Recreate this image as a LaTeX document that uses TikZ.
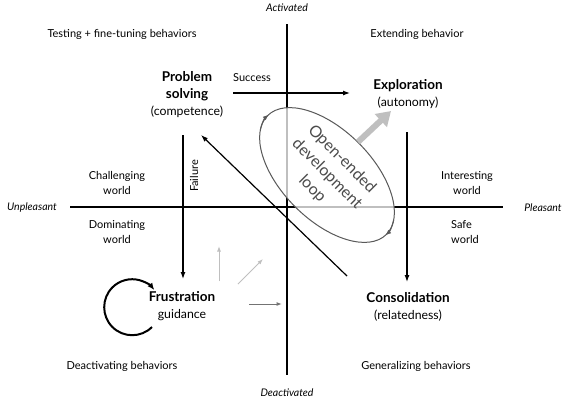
\documentclass[tikz,border=0pt]{standalone}
\usepackage{fontspec}
\setmainfont{Lato}
\usetikzlibrary{arrows.meta}
\newcommand\mybold[1]{{\fontsize{13.5}{17}\bfseries\selectfont #1}}
\begin{document}
\begin{tikzpicture}[x=1pt,y=-1pt,
  lbl/.style={font=\fontsize{11}{15}\selectfont, align=center, inner sep=0pt},
  axlbl/.style={font=\fontsize{10.5}{13}\itshape\selectfont, inner sep=0pt},
  ttl/.style={font=\fontsize{12.3}{17}\selectfont, align=center, inner sep=0pt},
  axisline/.style={line width=1.8pt},
  conn/.style={line width=1.2pt, -{Latex[length=7pt,width=5pt]}},
  grayconn/.style={line width=1pt, -{Latex[length=5.5pt,width=4pt]}},
  looptxt/.style={font=\fontsize{16}{21}\selectfont, align=center, inner sep=0pt, text=black!70},
]
\useasboundingbox (0,0) rectangle (567,400);
\fill[white] (0,0) rectangle (567,400);

% axes
\coordinate (vtop) at (287,24);
\coordinate (vbot) at (287,375);
\coordinate (hleft) at (70,207);
\coordinate (hright) at (503,207);
\draw[axisline] (vtop) -- (vbot);
\draw[axisline] (hleft) -- (hright);

\node[axlbl] (act) at (287,8) {Activated};
\node[axlbl] (deact) at (287,393) {Deactivated};
\node[axlbl] (unpl) at (32,208) {Unpleasant};
\node[axlbl] (pl) at (543,208) {Pleasant};

% corner texts
\node[lbl] (testing) at (122,34) {Testing + fine-tuning behaviors};
\node[lbl] (extending) at (417,34) {Extending behavior};
\node[lbl] (deactiv) at (122,366) {Deactivating behaviors};
\node[lbl] (general) at (416,366) {Generalizing behaviors};

% world labels
\node[lbl] (challenging) at (117,183) {Challenging\\world};
\node[lbl] (dominating) at (117,232) {Dominating\\world};
\node[lbl] (interesting) at (467,183) {Interesting\\world};
\node[lbl, align=left, anchor=west] (safe) at (451,232) {Safe\\world};

% main states
\node[ttl] (problem) at (187,95) {\mybold{Problem}\\\mybold{solving}\\(competence)};
\node[ttl] (exploration) at (408,94.5) {\mybold{Exploration}\\(autonomy)};
\node[ttl] (consolidation) at (408,306.5) {\mybold{Consolidation}\\(relatedness)};
\node[ttl] (frustration) at (182,306) {\mybold{Frustration}\\guidance};

% success arrow
\coordinate (sA) at (233,93);
\coordinate (sB) at (350,93);
\draw[conn] (sA) -- (sB);
\node[lbl] (success) at (252,78) {Success};

% failure arrow
\coordinate (fA) at (183,135);
\coordinate (fB) at (183,279);
\draw[conn] (fA) -- (fB);
\node[lbl, rotate=90] (failure) at (194,176) {Failure};

% consolidation arrow
\coordinate (cA) at (407,132);
\coordinate (cB) at (407,282);
\draw[conn] (cA) -- (cB);

% diagonal arrow back to problem solving
\coordinate (dA) at (347,276);
\coordinate (dB) at (201,135);
\draw[conn] (dA) -- (dB);

% open-ended development loop
\coordinate (lc) at (327,175);
\fill[white, opacity=0.75, rotate around={-45:(lc)}] (lc) ellipse [x radius=84pt, y radius=45pt];
\draw[black!65, line width=1pt, rotate around={-45:(lc)}] (lc) ellipse [x radius=84pt, y radius=45pt];
\begin{scope}[shift={(lc)}, rotate=-45]
  \draw[black!65, line width=1pt, -{Latex[length=6pt,width=4.5pt]}] (200:84pt and 45pt) arc [start angle=200, end angle=178, x radius=84pt, y radius=45pt];
  \draw[black!65, line width=1pt, -{Latex[length=6pt,width=4.5pt]}] (20:84pt and 45pt) arc [start angle=20, end angle=-2, x radius=84pt, y radius=45pt];
\end{scope}
\node[looptxt, rotate=-45] (looplbl) at (327,174) {Open-ended\\development\\loop};

% big gray arrow
\coordinate (gA) at (358,142);
\coordinate (gB) at (391,111);
\draw[black!25, line width=6pt, -{Triangle[length=14pt,width=17pt]}] (gA) -- (gB);

% frustration self loop
\coordinate (rA) at (152,327);
\draw[line width=2pt, -{Latex[length=7pt,width=6pt]}] (rA) arc [start angle=-45, end angle=-322, radius=28pt];

% small gray arrows
\coordinate (g1A) at (219,281);
\coordinate (g1B) at (219,246);
\draw[grayconn, black!25] (g1A) -- (g1B);
\coordinate (g2A) at (238,284);
\coordinate (g2B) at (263,259);
\draw[grayconn, black!25] (g2A) -- (g2B);
\coordinate (g3A) at (249,304);
\coordinate (g3B) at (282,304);
\draw[grayconn, black!55] (g3A) -- (g3B);
\end{tikzpicture}
\end{document}
